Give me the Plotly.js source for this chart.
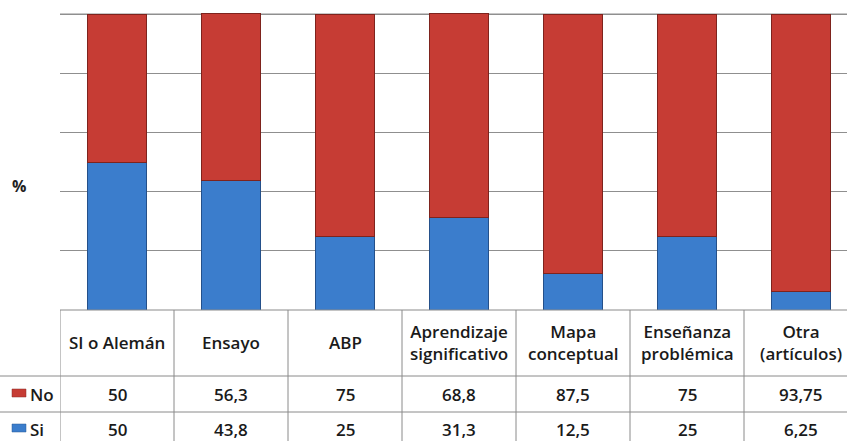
<!DOCTYPE html>
<html>
<head>
<meta charset="utf-8">
<script src="https://cdn.plot.ly/plotly-3.0.1.min.js"></script>
<style>html,body{margin:0;padding:0;background:#fff;}#chart{width:847px;height:441px;}</style>
</head>
<body>
<div id="chart"></div>
<script>
const categories = ["SI o Alemán", "Ensayo", "ABP", "Aprendizaje<br>significativo", "Mapa<br>conceptual", "Enseñanza<br>problémica", "Otra<br>(artículos)"];
const seriesNames = ["No", "Si"];
const noValues = [50, 56.3, 75, 68.8, 87.5, 75, 93.75];
const siValues = [50, 43.8, 25, 31.3, 12.5, 25, 6.25];
const yTitle = "%";

const redColor = "#c63c34";
const blueColor = "#3b7dcc";
const txtFont = {family: "Open Sans, Lato, sans-serif", size: 17, color: "#1a1a1a", weight: 600};

const xIdx = categories.map((c, i) => i);
const fmt = v => String(v).replace(".", ",");

const traces = [
  {type: "bar", name: seriesNames[1], x: xIdx, y: siValues, width: 0.526,
   marker: {color: blueColor, line: {color: "#24508a", width: 1}}, hoverinfo: "none"},
  {type: "bar", name: seriesNames[0], x: xIdx, y: noValues, width: 0.526,
   marker: {color: redColor, line: {color: "#7e231d", width: 1}}, hoverinfo: "none"}
];

// pixel helpers (plot area: x 60..847, y 12..310)
const plotTop = 12, plotBot = 310, plotH = plotBot - plotTop, plotL = 60, plotW = 847 - 60;
const py = p => (plotBot - p) / plotH;
const px = p => (p - plotL) / plotW;

const lineStyle = {color: "#8a8a8a", width: 1};
const shapes = [];
// top gridline at 100 (Plotly drops gridlines right at the range edge)
shapes.push({type: "line", xref: "paper", yref: "y", x0: 0, x1: 1, y0: 100, y1: 100, line: {color: "#8f8f8f", width: 1}, layer: "below"});
// table top border
shapes.push({type: "line", xref: "paper", yref: "paper", x0: 0, x1: 1, y0: 0, y1: 0, line: lineStyle});
// vertical column borders
for (let i = 0; i <= categories.length; i++) {
  shapes.push({type: "line", xref: "x", yref: "paper", x0: i - 0.5, x1: i - 0.5, y0: 0, y1: py(441), line: lineStyle});
}
// horizontal row borders
[376, 412].forEach(p => shapes.push({type: "line", xref: "paper", yref: "paper", x0: px(0), x1: 1, y0: py(p), y1: py(p), line: lineStyle}));
// legend keys
shapes.push({type: "rect", xref: "paper", yref: "paper", x0: px(12), x1: px(26), y0: py(389), y1: py(397), fillcolor: redColor, line: {color: "#8a2a24", width: 0.5}});
shapes.push({type: "rect", xref: "paper", yref: "paper", x0: px(12), x1: px(26), y0: py(424), y1: py(432), fillcolor: blueColor, line: {color: "#2a5a95", width: 0.5}});

const annotations = [];
categories.forEach((c, i) => {
  annotations.push({xref: "x", yref: "paper", x: i, y: py(343), text: c, showarrow: false, font: txtFont, xanchor: "center", yanchor: "middle"});
  annotations.push({xref: "x", yref: "paper", x: i, y: py(394), text: fmt(noValues[i]), showarrow: false, font: txtFont, xanchor: "center", yanchor: "middle"});
  annotations.push({xref: "x", yref: "paper", x: i, y: py(429), text: fmt(siValues[i]), showarrow: false, font: txtFont, xanchor: "center", yanchor: "middle"});
});
annotations.push({xref: "paper", yref: "paper", x: px(28), y: py(394), text: seriesNames[0], showarrow: false, font: txtFont, xanchor: "left", yanchor: "middle"});
annotations.push({xref: "paper", yref: "paper", x: px(28), y: py(429), text: seriesNames[1], showarrow: false, font: txtFont, xanchor: "left", yanchor: "middle"});
annotations.push({xref: "paper", yref: "paper", x: px(19), y: py(186), text: yTitle, showarrow: false, font: {family: "Open Sans, sans-serif", size: 16, color: "#222", weight: 700}, xanchor: "center", yanchor: "middle"});

const layout = {
  width: 847, height: 441,
  margin: {l: 60, r: 0, t: 12, b: 131, pad: 0},
  paper_bgcolor: "#fff", plot_bgcolor: "#fff",
  barmode: "stack", showlegend: false,
  xaxis: {range: [-0.5, -0.5 + plotW / 114], showticklabels: false, ticks: "", showgrid: false, zeroline: false, showline: false, fixedrange: true},
  yaxis: {range: [0, 100 * 298 / 296], tick0: 0, dtick: 20, showticklabels: false, ticks: "", showgrid: true, gridcolor: "#8f8f8f", gridwidth: 1, zeroline: false, showline: false, fixedrange: true},
  shapes: shapes,
  annotations: annotations
};

Plotly.newPlot("chart", traces, layout, {displayModeBar: false, staticPlot: true});
</script>
</body>
</html>
